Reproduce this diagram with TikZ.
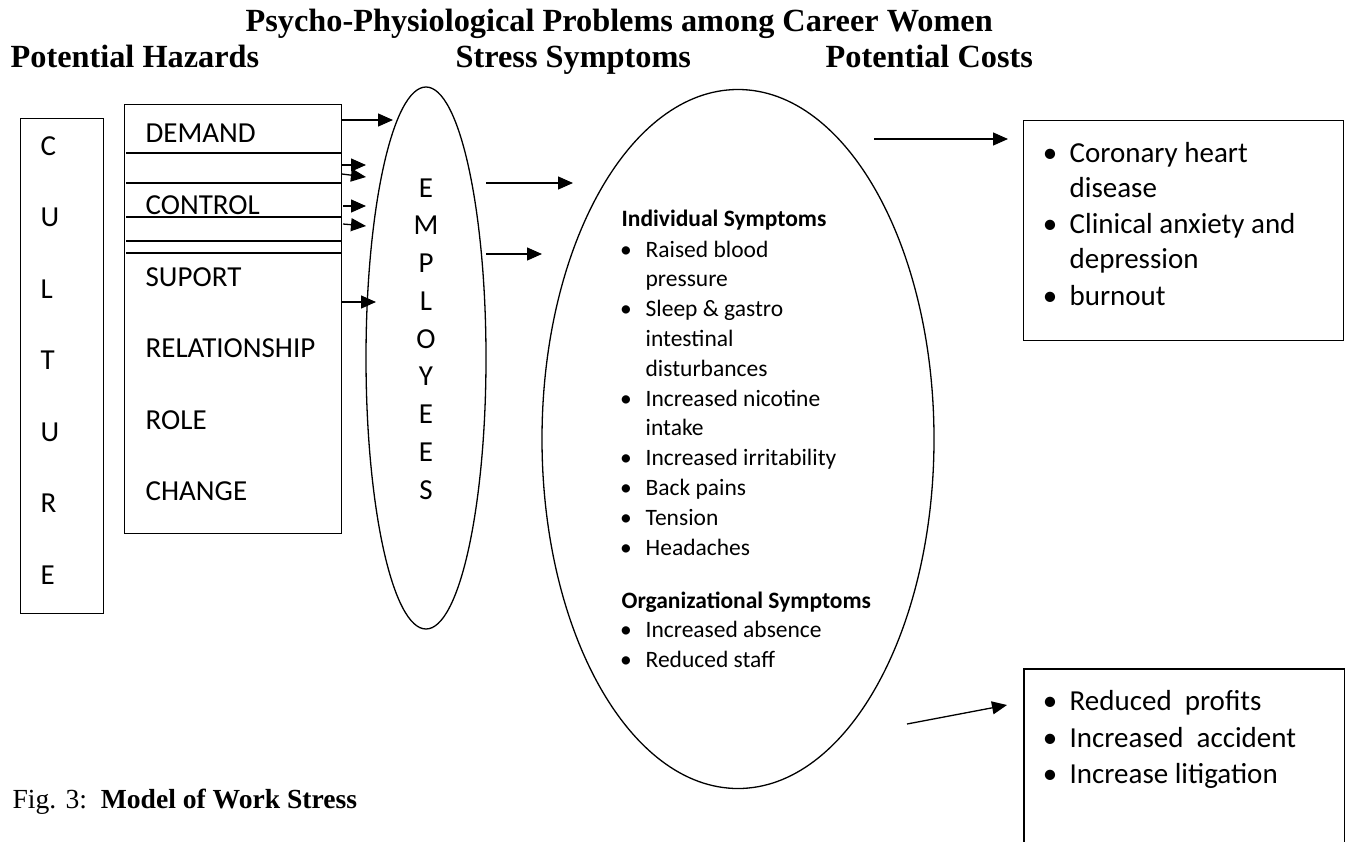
\documentclass[tikz,border=0pt]{standalone}
\usepackage{fontspec}
\setmainfont{Liberation Serif}
\newfontfamily\calfont{Carlito}
\usetikzlibrary{arrows.meta,shapes.geometric}
\begin{document}
\begin{tikzpicture}[x=1pt,y=-1pt,
  line width=1.3pt,
  body/.style={font=\calfont\fontsize{29}{35}\selectfont, anchor=base west, inner sep=0pt},
  letter/.style={font=\calfont\fontsize{29}{35}\selectfont, anchor=base, inner sep=0pt},
  bul/.style={font=\calfont\fontsize{29}{35}\selectfont, anchor=base, inner sep=0pt},
  sym/.style={font=\calfont\fontsize{23.5}{29}\selectfont, anchor=base west, inner sep=0pt},
  sbul/.style={font=\calfont\fontsize{23.5}{29}\selectfont, anchor=base, inner sep=0pt},
  symh/.style={font=\calfont\bfseries\fontsize{23.5}{29}\selectfont, anchor=base west, inner sep=0pt},
  hdr/.style={font=\bfseries\fontsize{32.3}{38}\selectfont, anchor=base west, inner sep=0pt},
  box/.style={draw, line width=1.3pt, rectangle, inner sep=0pt, anchor=north west},
  arr/.style={-{Triangle[length=15pt,width=13pt]}, line width=1.3pt},
]
\useasboundingbox (0,0) rectangle (1348,841);

% titles
\node[hdr] (title) at (245,31) {Psycho-Physiological Problems among Career Women};
\node[hdr] (h1) at (10,67) {Potential Hazards};
\node[hdr] (h2) at (455,67) {Stress Symptoms};
\node[hdr] (h3) at (825,67) {Potential Costs};

% culture box
\node[box, minimum width=83pt, minimum height=495pt] (culture) at (20,118) {};
\foreach \l [count=\i] in {C,U,L,T,U,R,E}
  \node[body] (cl\i) at (40,155+71.5*\i-71.5) {\l};

% hazards box
\node[box, minimum width=217pt, minimum height=429pt] (hz) at (124,104) {};
\foreach \yy in {153,183,217,241,253}
  \draw[line width=1.2pt] (126,\yy) -- (342,\yy);
\node[body] (t1) at (145,142) {DEMAND};
\node[body] (t2) at (145,214) {CONTROL};
\node[body] (t3) at (145,286) {SUPORT};
\node[body] (t4) at (145,357) {RELATIONSHIP};
\node[body] (t5) at (145,429) {ROLE};
\node[body] (t6) at (145,500) {CHANGE};

% employees ellipse
\node[draw, ellipse, minimum width=120pt, minimum height=542pt, inner sep=0pt] (emp) at (426,358) {};
\foreach \l [count=\i] in {E,M,P,L,O,Y,E,E,S}
  \node[letter] (el\i) at (426,197+37.75*\i-37.75) {\l};

% arrows hazards -> employees
\coordinate (a0s) at (341,120); \coordinate (a0e) at (393,120);
\coordinate (a1s) at (342,165); \coordinate (a1e) at (366,165);
\coordinate (a2s) at (342,174); \coordinate (a2e) at (366,177);
\coordinate (a3s) at (343,206); \coordinate (a3e) at (366,206);
\coordinate (a4s) at (343,224); \coordinate (a4e) at (366,226);
\coordinate (a5s) at (342,302); \coordinate (a5e) at (376,302);
\foreach \k in {0,...,5} \draw[arr] (a\k s) -- (a\k e);

% symptoms ellipse
\node[draw, ellipse, minimum width=392pt, minimum height=699pt, inner sep=0pt] (sy) at (738,439) {};
\coordinate (b1s) at (486,183); \coordinate (b1e) at (573,183);
\coordinate (b2s) at (486,254); \coordinate (b2e) at (542,254);
\draw[arr] (b1s) -- (b1e);
\draw[arr] (b2s) -- (b2e);

\node[symh] (ish) at (621,226) {Individual Symptoms};
\foreach \t/\y/\b [count=\i] in {Raised blood/257/1, pressure/286.8/0, Sleep \& gastro/316.6/1, intestinal/346.4/0, disturbances/376.2/0, Increased nicotine/406/1, intake/435.8/0, Increased irritability/465.6/1, Back pains/495.4/1, Tension/525.2/1, Headaches/555/1}{
  \node[sym] (is\i) at (645,\y) {\t};
  \ifnum\b=1 \node[sbul] (isb\i) at (626,\y) {\textbullet}; \fi
}
\node[symh] (osh) at (621,608) {Organizational Symptoms};
\node[sym] (os1) at (645,637.5) {Increased absence};
\node[sbul] (osb1) at (626,637.5) {\textbullet};
\node[sym] (os2) at (645,667) {Reduced staff};
\node[sbul] (osb2) at (626,667) {\textbullet};

% top right box
\node[box, minimum width=320pt, minimum height=220pt] (cost1) at (1023,120) {};
\coordinate (c1s) at (874,139); \coordinate (c1e) at (1008,139);
\draw[arr] (c1s) -- (c1e);
\foreach \t/\y/\b [count=\i] in {Coronary heart/162/1, disease/197.5/0, Clinical anxiety and/233/1, depression/268.5/0, burnout/305/1}{
  \node[body] (ct\i) at (1069,\y) {\t};
  \ifnum\b=1 \node[bul] (ctb\i) at (1050,\y) {\textbullet}; \fi
}

% bottom right box (open at the bottom)
\node[inner sep=0pt, minimum width=319pt, minimum height=180pt, anchor=north west] (cost2) at (1024,669) {};
\draw (cost2.south west) -- (cost2.north west) -- (cost2.north east) -- (cost2.south east);
\coordinate (c2s) at (907,724); \coordinate (c2e) at (1007,705);
\draw[arr] (c2s) -- (c2e);
\foreach \t/\y [count=\i] in {Reduced\ \ profits/710, Increased\ \ accident/747, Increase litigation/783}{
  \node[body] (cb\i) at (1069,\y) {\t};
  \node[bul] (cbb\i) at (1050,\y) {\textbullet};
}

% caption
\node[anchor=base west, inner sep=0pt, font=\fontsize{27.6}{34}\selectfont] (cap) at (12,808) {Fig. 3:\ \ \textbf{Model of Work Stress}};
\end{tikzpicture}
\end{document}
